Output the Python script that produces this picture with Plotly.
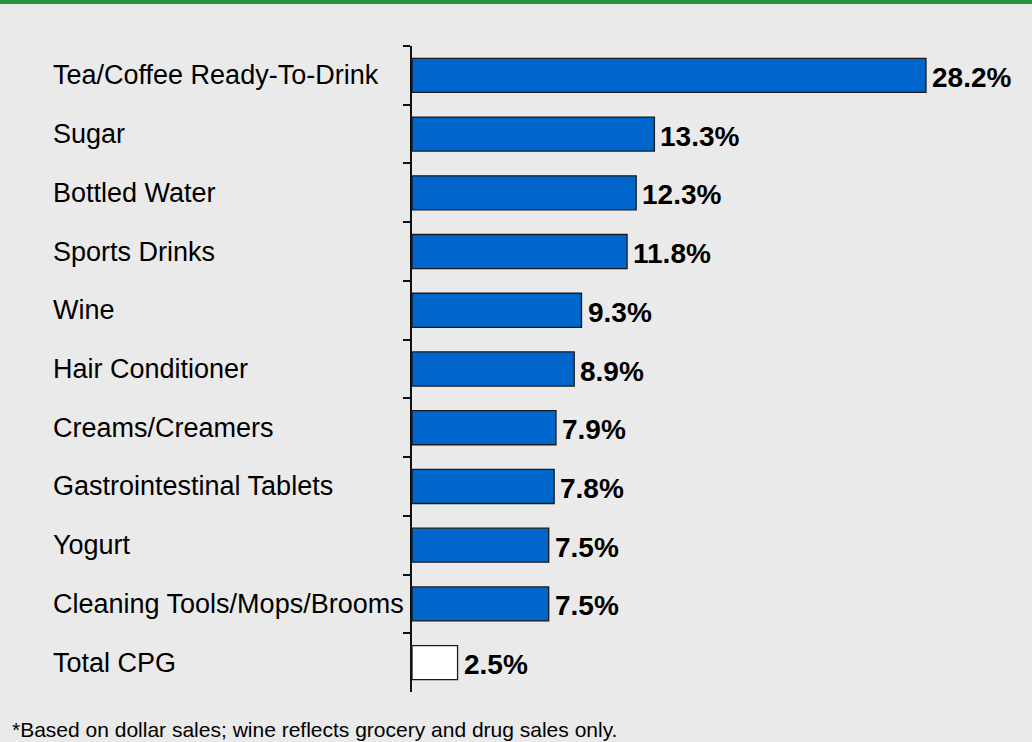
import plotly.graph_objects as go

# Category growth shares (percent), top to bottom
categories = [
    "Tea/Coffee Ready-To-Drink",
    "Sugar",
    "Bottled Water",
    "Sports Drinks",
    "Wine",
    "Hair Conditioner",
    "Creams/Creamers",
    "Gastrointestinal Tablets",
    "Yogurt",
    "Cleaning Tools/Mops/Brooms",
    "Total CPG",
]
values = [28.2, 13.3, 12.3, 11.8, 9.3, 8.9, 7.9, 7.8, 7.5, 7.5, 2.5]
value_labels = ["28.2%", "13.3%", "12.3%", "11.8%", "9.3%", "8.9%",
                "7.9%", "7.8%", "7.5%", "7.5%", "2.5%"]
footnote = "*Based on dollar sales; wine reflects grocery and drug sales only."

BLUE = "#0066CC"
BG = "#EAEAEA"
FONT = "Liberation Sans"

W, H = 1032, 742
M_L, M_R, M_T, M_B = 412, 55, 46, 50
plot_w = W - M_L - M_R
plot_h = H - M_T - M_B

colors = [BLUE] * (len(categories) - 1) + ["#FFFFFF"]

fig = go.Figure(
    go.Bar(
        x=values,
        y=categories,
        orientation="h",
        marker=dict(color=colors, line=dict(color="#1A1A1A", width=1.3)),
        hoverinfo="skip",
    )
)

annotations = []
for cat, val, lab in zip(categories, values, value_labels):
    # category name, left-aligned in the left margin
    annotations.append(dict(
        x=(51 - M_L) / plot_w, xref="paper", y=cat, yref="y",
        text=cat, showarrow=False, xanchor="left", yanchor="middle",
        font=dict(family=FONT, size=27, color="#000000"),
    ))
    # value label at the end of the bar
    annotations.append(dict(
        x=val, xref="x", y=cat, yref="y",
        text=f"<b>{lab}</b>", showarrow=False, xanchor="left", yanchor="middle",
        xshift=4, yshift=-2,
        font=dict(family=FONT, size=28, color="#000000"),
    ))

annotations.append(dict(
    x=(10 - M_L) / plot_w, xref="paper", y=-(729 - (H - M_B)) / plot_h, yref="paper",
    text=footnote, showarrow=False, xanchor="left", yanchor="middle",
    font=dict(family=FONT, size=21, color="#000000"),
))

fig.update_layout(
    width=W, height=H,
    margin=dict(l=M_L, r=M_R, t=M_T, b=M_B),
    paper_bgcolor=BG, plot_bgcolor=BG,
    bargap=0.42,
    showlegend=False,
    annotations=annotations,
    shapes=[dict(
        type="rect", xref="paper", yref="paper",
        x0=-M_L / plot_w, x1=1 + M_R / plot_w,
        y0=1 + (M_T - 4) / plot_h, y1=1 + M_T / plot_h,
        fillcolor="#23963A", line=dict(width=0), layer="above",
    )],
    xaxis=dict(range=[0, 31.0], visible=False, fixedrange=True),
    yaxis=dict(
        categoryorder="array", categoryarray=categories, autorange="reversed",
        showticklabels=False, showgrid=False, zeroline=False,
        showline=True, linecolor="#111111", linewidth=1.5,
        ticks="outside", tickson="boundaries", ticklen=7,
        tickcolor="#111111", tickwidth=1.5,
    ),
)

fig.write_html("out.html")
